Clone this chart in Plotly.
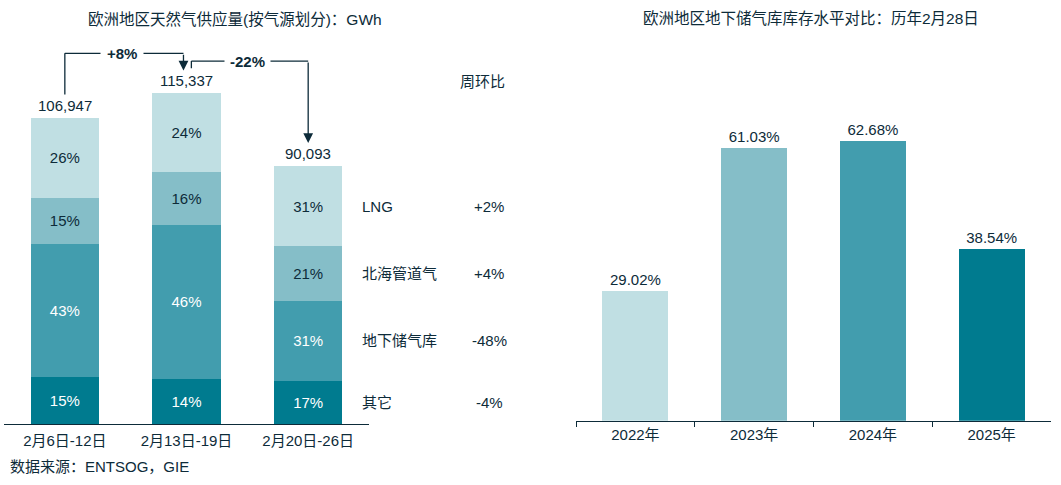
import plotly.graph_objects as go

# ---------------- data ----------------
weeks = ["2月6日-12日", "2月13日-19日", "2月20日-26日"]
other_gwh = [16470, 15800, 15168]
storage_gwh = [46415, 53536, 27637]
northsea_gwh = [16149, 18454, 19190]
lng_gwh = [27913, 27547, 28098]

other_lbl = ["15%", "14%", "17%"]
storage_lbl = ["43%", "46%", "31%"]
northsea_lbl = ["15%", "16%", "21%"]
lng_lbl = ["26%", "24%", "31%"]

source_names = ["LNG", "北海管道气", "地下储气库", "其它"]
wow_labels = ["+2%", "+4%", "-48%", "-4%"]
change_labels = ["+8%", "-22%"]

years = ["2022年", "2023年", "2024年", "2025年"]
storage_level = [29.02, 61.03, 62.68, 38.54]

# ---------------- style ----------------
TXT = "#0D2B39"
C1, C2, C3, C4 = "#C0DFE3", "#85BEC8", "#429DAE", "#007B8F"
FONT = "Liberation Sans, Arial, Noto Sans CJK SC, sans-serif"
FS = 15

totals = [a + b + c + d for a, b, c, d in zip(other_gwh, storage_gwh, northsea_gwh, lng_gwh)]

fig = go.Figure()

stack = [
    (other_gwh, other_lbl, C4, "white"),
    (storage_gwh, storage_lbl, C3, "white"),
    (northsea_gwh, northsea_lbl, C2, TXT),
    (lng_gwh, lng_lbl, C1, TXT),
]
for vals, lbls, col, tcol in stack:
    fig.add_trace(go.Bar(
        x=weeks, y=vals, text=lbls, textposition="inside", insidetextanchor="middle",
        textfont=dict(color=tcol, size=FS, family=FONT), marker=dict(color=col, line=dict(width=0)),
        width=0.56, xaxis="x", yaxis="y", hoverinfo="skip", showlegend=False,
        constraintext="none", textangle=0,
    ))

fig.add_trace(go.Bar(
    x=years, y=storage_level, marker=dict(color=[C1, C2, C3, C4], line=dict(width=0)),
    texttemplate="%{y:.2f}%", textposition="outside", cliponaxis=False,
    textfont=dict(color=TXT, size=FS, family=FONT), width=0.555,
    xaxis="x2", yaxis="y2", hoverinfo="skip", showlegend=False,
))

ann = []
shapes = []
# totals above stacked bars
for i, t in enumerate(totals):
    ann.append(dict(x=i, y=t, xref="x", yref="y", text=f"{t:,}", showarrow=False,
                    xanchor="center", yanchor="bottom", yshift=2, font=dict(size=FS, color=TXT, family=FONT)))

# right-hand labels at bar-3 segment midpoints
seg3 = [lng_gwh[2], northsea_gwh[2], storage_gwh[2], other_gwh[2]]
bases = [other_gwh[2] + storage_gwh[2] + northsea_gwh[2], other_gwh[2] + storage_gwh[2], other_gwh[2], 0]
for name, wow, h, b in zip(source_names, wow_labels, seg3, bases):
    mid = b + h / 2
    ann.append(dict(x=2.423, y=mid, xref="x", yref="y", text=name, showarrow=False,
                    xanchor="left", yanchor="middle", font=dict(size=FS, color=TXT, family=FONT)))
    ann.append(dict(x=0.4609, y=mid, xref="paper", yref="y", text=wow, showarrow=False,
                    xanchor="center", yanchor="middle", font=dict(size=FS, color=TXT, family=FONT)))
ann.append(dict(x=0.455, y=0.831, xref="paper", yref="paper", text="周环比", showarrow=False,
                xanchor="center", yanchor="middle", font=dict(size=FS, color=TXT, family=FONT)))

# bracket connectors
lw = 1.3
yb1 = max(totals[0], totals[1]) + 14000
shapes += [
    dict(type="line", xref="x", yref="y", x0=0, x1=0, y0=totals[0] + 8000, y1=yb1, line=dict(color=TXT, width=lw)),
    dict(type="line", xref="x", yref="y", x0=0, x1=0.975, y0=yb1, y1=yb1, line=dict(color=TXT, width=lw)),
]
ann.append(dict(x=0.975, y=totals[1] + 8000, ax=0.975, ay=yb1, xref="x", yref="y", axref="x", ayref="y",
                text="", showarrow=True, arrowhead=2, arrowsize=1.5, arrowwidth=lw, arrowcolor=TXT))
ann.append(dict(x=0.47, y=yb1, xref="x", yref="y", text=f"<b>{change_labels[0]}</b>", showarrow=False,
                xanchor="center", yanchor="middle",
                bgcolor="white", borderpad=6, font=dict(size=FS, color=TXT, family=FONT)))

yb2 = totals[1] + 11300
shapes += [
    dict(type="line", xref="x", yref="y", x0=1.04, x1=1.04, y0=totals[1] + 8800, y1=yb2, line=dict(color=TXT, width=lw)),
    dict(type="line", xref="x", yref="y", x0=1.04, x1=2.0, y0=yb2, y1=yb2, line=dict(color=TXT, width=lw)),
]
ann.append(dict(x=2.0, y=totals[2] + 8000, ax=2.0, ay=yb2, xref="x", yref="y", axref="x", ayref="y",
                text="", showarrow=True, arrowhead=2, arrowsize=1.5, arrowwidth=lw, arrowcolor=TXT))
ann.append(dict(x=1.50, y=yb2, xref="x", yref="y", text=f"<b>{change_labels[1]}</b>", showarrow=False,
                xanchor="center", yanchor="middle",
                bgcolor="white", borderpad=5, font=dict(size=FS, color=TXT, family=FONT)))

# titles and source
ann.append(dict(x=0.2215, y=0.961, xref="paper", yref="paper", text="欧洲地区天然气供应量(按气源划分)：GWh",
                xanchor="center", yanchor="middle",
                showarrow=False, font=dict(size=15.5, color=TXT, family=FONT)))
ann.append(dict(x=0.7648, y=0.961, xref="paper", yref="paper", text="欧洲地区地下储气库库存水平对比：历年2月28日",
                xanchor="center", yanchor="middle",
                showarrow=False, font=dict(size=15.5, color=TXT, family=FONT)))
ann.append(dict(x=0.0075, y=0.039, xref="paper", yref="paper", text="数据来源：ENTSOG，GIE",
                xanchor="left", yanchor="middle",
                showarrow=False, font=dict(size=FS, color=TXT, family=FONT)))

fig.update_layout(
    width=1061, height=485, margin=dict(l=0, r=0, t=0, b=0),
    paper_bgcolor="white", plot_bgcolor="white", barmode="stack",
    font=dict(family=FONT, size=FS, color=TXT),
    xaxis=dict(domain=[0.00377, 0.3478], type="category", range=[-0.5, 2.5], showline=True,
               linecolor=TXT, linewidth=1.3, ticks="", showgrid=False, zeroline=False,
               ticklabelstandoff=3,
               tickfont=dict(size=FS, color=TXT, family=FONT), fixedrange=True),
    yaxis=dict(domain=[0.1258, 0.953], range=[0, 140000], visible=False, showgrid=False),
    xaxis2=dict(domain=[0.5429, 0.9906], type="category", range=[-0.5, 3.5], anchor="y2", showline=True,
                linecolor=TXT, linewidth=1.3, ticks="outside", tickson="boundaries", ticklen=5,
                tickcolor=TXT, tickwidth=1.3, showgrid=False, zeroline=False,
                tickfont=dict(size=FS, color=TXT, family=FONT)),
    yaxis2=dict(domain=[0.1324, 0.7775], range=[0, 70], anchor="x2", visible=False, showgrid=False),
    annotations=ann, shapes=shapes,
)

fig.write_html("out.html", config={"displayModeBar": False},
               post_script="document.body.style.margin='0';document.body.style.overflow='hidden';")
